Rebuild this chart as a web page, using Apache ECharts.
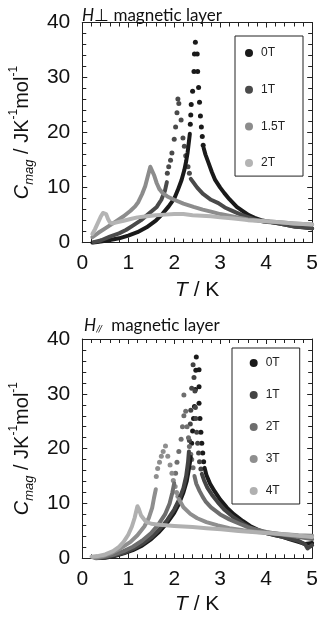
<!DOCTYPE html>
<html><head><meta charset="utf-8">
<script src="https://cdn.jsdelivr.net/npm/echarts@6/dist/echarts.min.js"></script>
<style>html,body{margin:0;padding:0;background:#fff}#c{width:321px;height:624px}</style>
</head><body><div id="c"></div>
<script>
// ---------- axis ticks ----------
const xTickValues = [0, 1, 2, 3, 4, 5];
const yTickValues = [0, 10, 20, 30, 40];

// ---------- top panel: H⊥ magnetic layer ----------
const topNames = ['0T', '1T', '1.5T', '2T'];
const topColors = ['#1a1a1a', '#4a4a4a', '#8c8c8c', '#b4b4b4'];

const top0Rise = [[0.22,0.0],[0.4,0.2],[0.6,0.5],[0.8,0.8],[1.0,1.3],[1.2,1.9],[1.4,2.8],[1.6,4.0],[1.75,5.3],[1.88,6.6],[2.0,8.0],[2.08,9.6],[2.16,11.4],[2.22,13.2],[2.26,14.8],[2.29,16.3],[2.32,18.4],[2.34,19.8]];
const top0Dots = [[2.35,21.5],[2.36,23.2],[2.37,25.1],[2.40,27.5],[2.43,31.1],[2.44,34.3],[2.46,36.4],[2.50,34.3],[2.51,31.1],[2.53,28.2],[2.55,25.5],[2.57,23.0],[2.59,21.0],[2.61,19.3],[2.63,17.7]];
const top0Tail = [[2.64,17.2],[2.68,16.0],[2.75,14.4],[2.82,12.8],[2.89,11.4],[3.0,10.0],[3.09,9.0],[3.2,7.9],[3.36,6.5],[3.5,5.7],[3.62,5.0],[3.75,4.5],[3.89,4.1],[4.0,3.9],[4.2,3.6],[4.4,3.3],[4.6,3.0],[4.8,2.8],[5.0,2.6]];

const top1Rise = [[0.25,0.1],[0.4,0.4],[0.6,1.1],[0.8,1.7],[0.95,2.3],[1.1,3.1],[1.28,4.1],[1.45,5.3],[1.62,6.5],[1.72,7.8],[1.8,9.5],[1.84,11.0]];
const top1Dots = [[1.85,12.6],[1.88,13.8],[1.92,15.0],[1.95,16.3],[2.0,18.8],[2.03,21.0],[2.06,23.6],[2.08,26.1],[2.10,25.3],[2.15,22.3],[2.19,19.0],[2.22,17.5],[2.25,15.8],[2.30,13.8],[2.33,12.6]];
const top1Tail = [[2.36,11.6],[2.42,10.9],[2.5,10.0],[2.62,8.9],[2.8,7.8],[2.96,7.2],[3.1,6.4],[3.29,5.7],[3.45,5.1],[3.62,4.6],[3.8,4.1],[3.96,3.8],[4.1,3.7],[4.29,3.5],[4.45,3.2],[4.63,2.9],[4.8,2.8],[5.0,2.6]];

const top15Line = [[0.22,1.0],[0.35,1.8],[0.5,2.6],[0.7,3.7],[0.9,4.8],[1.05,5.8],[1.15,6.6],[1.22,7.4],[1.3,8.8],[1.37,10.3],[1.43,12.2],[1.48,13.8],[1.52,13.5],[1.56,12.3],[1.62,10.8],[1.68,9.7],[1.75,9.0],[1.85,8.4],[2.0,7.8],[2.2,7.1],[2.42,6.5],[2.62,6.0],[2.82,5.6],[3.0,5.2],[3.3,4.7],[3.6,4.2],[4.0,3.9],[4.3,3.7],[4.6,3.5],[5.0,3.3]];

const top2Line = [[0.22,1.6],[0.28,2.5],[0.34,3.6],[0.4,4.7],[0.45,5.4],[0.48,5.6],[0.52,5.2],[0.56,4.3],[0.6,3.7],[0.66,3.5],[0.75,3.7],[0.9,4.0],[1.05,4.3],[1.2,4.6],[1.4,4.8],[1.6,5.0],[1.8,5.1],[2.0,5.2],[2.2,5.2],[2.4,5.0],[2.6,4.9],[2.8,4.8],[3.0,4.6],[3.3,4.4],[3.6,4.1],[4.0,3.9],[4.3,3.7],[4.6,3.5],[5.0,3.3]];

// ---------- bottom panel: H// magnetic layer ----------
const botNames = ['0T', '1T', '2T', '3T', '4T'];
const botColors = ['#1a1a1a', '#444444', '#6e6e6e', '#8e8e8e', '#b0b0b0'];

const bot0Rise = [[0.3,0.0],[0.5,0.1],[0.7,0.4],[0.9,0.9],[1.1,1.5],[1.3,2.3],[1.5,3.5],[1.68,4.9],[1.85,6.5],[2.0,8.3],[2.1,9.9],[2.2,12.0],[2.27,14.0],[2.32,16.3],[2.36,18.5]];
const bot0Dots = [[2.38,21.0],[2.40,23.2],[2.42,25.5],[2.44,27.7],[2.46,30.8],[2.47,34.3],[2.48,36.7],[2.54,34.4],[2.54,31.3],[2.54,28.3],[2.56,25.5],[2.58,23.0],[2.60,21.0],[2.62,19.2],[2.64,17.6]];
const bot0Tail = [[2.66,16.5],[2.7,15.2],[2.78,13.6],[2.88,12.2],[3.0,10.7],[3.15,9.2],[3.3,8.0],[3.49,6.8],[3.65,5.9],[3.82,5.2],[4.0,4.6],[4.2,4.2],[4.36,3.9],[4.5,3.5],[4.7,3.0],[4.85,2.6],[5.0,2.8]];

const bot1Rise = [[0.3,0.0],[0.5,0.2],[0.7,0.5],[0.9,1.0],[1.1,1.7],[1.3,2.6],[1.5,3.8],[1.68,5.3],[1.85,7.0],[2.0,8.9],[2.1,10.6],[2.2,12.8],[2.26,15.0],[2.3,17.5],[2.32,19.5]];
const bot1Dots = [[2.33,21.5],[2.35,24.5],[2.36,27.0],[2.38,31.0],[2.41,35.3],[2.43,33.0],[2.45,30.5],[2.46,27.5],[2.47,25.5],[2.49,23.0],[2.51,21.0],[2.53,19.2],[2.55,17.6],[2.58,16.3]];
const bot1Tail = [[2.6,15.4],[2.65,14.2],[2.72,12.9],[2.82,11.6],[2.95,10.2],[3.1,8.8],[3.3,7.4],[3.5,6.3],[3.7,5.4],[3.9,4.8],[4.1,4.4],[4.3,4.0],[4.5,3.6],[4.7,3.2],[4.85,2.5],[4.9,1.8],[5.0,2.4]];

const bot2Rise = [[0.3,0.0],[0.5,0.3],[0.7,0.7],[0.9,1.3],[1.1,2.1],[1.3,3.2],[1.5,4.6],[1.65,6.1],[1.8,8.0],[1.9,10.0],[1.96,12.0],[2.0,13.7]];
const bot2Dots = [[2.03,15.5],[2.06,17.5],[2.1,19.5],[2.15,21.7],[2.18,24.0],[2.21,26.0],[2.21,29.8],[2.25,26.8],[2.28,24.0],[2.31,22.0],[2.33,20.4],[2.36,19.0],[2.38,18.0],[2.41,16.5]];
const bot2Tail = [[2.44,15.0],[2.48,13.6],[2.55,12.3],[2.62,11.2],[2.68,10.4],[2.8,9.3],[3.0,8.0],[3.2,7.1],[3.42,6.3],[3.6,5.7],[3.8,5.2],[4.0,4.8],[4.3,4.4],[4.6,4.0],[5.0,3.5]];

const bot3Rise = [[0.25,0.1],[0.45,0.4],[0.65,1.0],[0.85,1.9],[1.05,3.0],[1.2,4.2],[1.35,5.8],[1.45,7.4],[1.52,9.2],[1.56,11.0],[1.6,12.6]];
const bot3Dots = [[1.61,14.9],[1.64,16.4],[1.68,17.5],[1.72,18.6],[1.76,19.5],[1.81,20.5],[1.86,18.6],[1.91,17.0],[1.95,15.5],[1.98,14.2],[2.02,13.1],[2.05,12.0],[2.08,11.3]];
const bot3Tail = [[2.1,10.8],[2.2,9.3],[2.35,8.1],[2.5,7.3],[2.7,6.6],[2.95,6.0],[3.2,5.5],[3.5,5.1],[3.8,4.8],[4.1,4.6],[4.4,4.4],[4.7,4.2],[5.0,4.1]];

const bot4Line = [[0.2,0.3],[0.33,0.4],[0.5,0.7],[0.67,1.3],[0.8,2.1],[0.9,3.0],[1.0,4.3],[1.08,5.8],[1.14,7.4],[1.18,8.8],[1.2,9.5],[1.23,9.0],[1.28,7.8],[1.38,6.7],[1.5,6.3],[1.68,6.1],[2.0,5.9],[2.4,5.7],[2.7,5.5],[3.02,5.3],[3.4,5.0],[3.7,4.8],[4.0,4.6],[4.37,4.4],[4.7,4.1],[5.0,3.9]];

// ---------- build ----------
const LINE_W = 4, DOT = 5;
function lineS(name, data, color, g) {
  return { name, type: 'line', xAxisIndex: g * 2, yAxisIndex: g * 2, data, showSymbol: false, symbol: 'none',
    lineStyle: { color, width: LINE_W, cap: 'round', join: 'round' }, itemStyle: { color }, animation: false, silent: true };
}
function dotS(name, data, color, g) {
  return { name, type: 'scatter', xAxisIndex: g * 2, yAxisIndex: g * 2, data, symbol: 'circle', symbolSize: DOT,
    itemStyle: { color, opacity: 1 }, animation: false, silent: true };
}
const series = [
  lineS(topNames[0], top0Rise, topColors[0], 0), dotS(topNames[0], top0Dots, topColors[0], 0), lineS(topNames[0], top0Tail, topColors[0], 0),
  lineS(topNames[1], top1Rise, topColors[1], 0), dotS(topNames[1], top1Dots, topColors[1], 0), lineS(topNames[1], top1Tail, topColors[1], 0),
  lineS(topNames[2], top15Line, topColors[2], 0),
  lineS(topNames[3], top2Line, topColors[3], 0),
  lineS(botNames[0], bot0Rise, botColors[0], 1), dotS(botNames[0], bot0Dots, botColors[0], 1), lineS(botNames[0], bot0Tail, botColors[0], 1),
  lineS(botNames[1], bot1Rise, botColors[1], 1), dotS(botNames[1], bot1Dots, botColors[1], 1), lineS(botNames[1], bot1Tail, botColors[1], 1),
  lineS(botNames[2], bot2Rise, botColors[2], 1), dotS(botNames[2], bot2Dots, botColors[2], 1), lineS(botNames[2], bot2Tail, botColors[2], 1),
  lineS(botNames[3], bot3Rise, botColors[3], 1), dotS(botNames[3], bot3Dots, botColors[3], 1), lineS(botNames[3], bot3Tail, botColors[3], 1),
  lineS(botNames[4], bot4Line, botColors[4], 1)
];

const AX = '#222';
const tickFont = { fontFamily: 'Liberation Sans, Arial, sans-serif', fontSize: 21, color: '#111' };
function xAx(g, pos, nameGap) {
  const main = pos === 'bottom';
  return { gridIndex: g, type: 'value', position: pos, min: xTickValues[0], max: xTickValues[xTickValues.length - 1],
    interval: xTickValues[1] - xTickValues[0],
    axisLine: { show: true, onZero: false, lineStyle: { color: AX, width: 1 } },
    axisTick: { show: true, inside: true, length: 5, lineStyle: { color: AX } },
    minorTick: { show: true, splitNumber: 5, length: 4, lineStyle: { color: AX } },
    splitLine: { show: false },
    axisLabel: { show: main, margin: 10, ...tickFont },
    name: main ? '{i|T}{n| / K}' : '', nameLocation: 'middle', nameGap: nameGap,
    nameTextStyle: { rich: { i: { fontFamily: 'Liberation Sans', fontStyle: 'italic', fontSize: 21, color: '#111' },
                             n: { fontFamily: 'Liberation Sans', fontSize: 21, color: '#111' } } } };
}
function yAx(g, pos, nameGap) {
  const main = pos === 'left';
  return { gridIndex: g, type: 'value', position: pos, min: yTickValues[0], max: yTickValues[yTickValues.length - 1],
    interval: yTickValues[1] - yTickValues[0],
    axisLine: { show: true, onZero: false, lineStyle: { color: AX, width: 1 } },
    axisTick: { show: true, inside: true, length: 5, lineStyle: { color: AX } },
    minorTick: { show: true, splitNumber: 5, length: 4, lineStyle: { color: AX } },
    splitLine: { show: false },
    axisLabel: { show: main, margin: 12, ...tickFont },
    name: main ? '{i|C}{sub|mag}{n| / JK}{sup|-1}{n|mol}{sup|-1}' : '', nameLocation: 'middle', nameGap: nameGap,
    nameTextStyle: { rich: {
      i: { fontFamily: 'Liberation Sans', fontStyle: 'italic', fontSize: 20, lineHeight: 28, color: '#111' },
      sub: { fontFamily: 'Liberation Sans', fontStyle: 'italic', fontSize: 13, lineHeight: 13, verticalAlign: 'bottom', color: '#111' },
      n: { fontFamily: 'Liberation Sans', fontSize: 20, lineHeight: 28, color: '#111' },
      sup: { fontFamily: 'Liberation Sans', fontSize: 12, lineHeight: 12, verticalAlign: 'top', color: '#111' } } } };
}

const legendText = { fontFamily: 'Liberation Sans Narrow, Liberation Sans, sans-serif', fontSize: 12, color: '#222', lineHeight: 12 };
const titleRich = {
  i: { fontFamily: 'Lato', fontStyle: 'italic', fontWeight: 'normal', fontSize: 17, color: '#111' },
  n: { fontFamily: 'Lato', fontWeight: 'normal', fontSize: 17, color: '#111' },
  s: { fontFamily: 'Lato', fontStyle: 'italic', fontWeight: 'normal', fontSize: 10, verticalAlign: 'bottom', lineHeight: 10, color: '#111' }
};
const option = {
  backgroundColor: '#fff',
  animation: false,
  title: [
    { left: 77, top: 2, text: '{i|H}{n|⊥ magnetic layer}', textStyle: { fontWeight: 'normal', rich: titleRich } },
    { left: 79, top: 312, text: '{i|H}{s|//}{n|  magnetic layer}', textStyle: { fontWeight: 'normal', rich: titleRich } }
  ],
  grid: [
    { left: 69.5, right: 2.5, top: 22.5, bottom: 381.3, containLabel: false },
    { left: 66.7, right: 6, top: 339, bottom: 65.7, containLabel: false }
  ],
  xAxis: [xAx(0, 'bottom', 37), xAx(0, 'top', 0), xAx(1, 'bottom', 35), xAx(1, 'top', 0)],
  yAxis: [yAx(0, 'left', 40), yAx(0, 'right', 0), yAx(1, 'left', 38), yAx(1, 'right', 0)],
  legend: [
    { orient: 'vertical', left: 235, top: 36, icon: 'circle', itemWidth: 14, itemHeight: 8, itemGap: 24.7,
      borderColor: '#222', borderWidth: 1, padding: [11, 18, 7, 10], selectedMode: false, textStyle: legendText,
      data: topNames.map((n, i) => ({ name: n, itemStyle: { color: topColors[i] } })) },
    { orient: 'vertical', left: 232, top: 348, icon: 'circle', itemWidth: 14, itemHeight: 8, itemGap: 20,
      borderColor: '#222', borderWidth: 1, padding: [9, 20, 7, 17.7], selectedMode: false, textStyle: legendText,
      data: botNames.map((n, i) => ({ name: n, itemStyle: { color: botColors[i] } })) }
  ],
  series
};
const chart = echarts.init(document.getElementById('c'), null, { renderer: 'canvas' });
chart.setOption(option);
</script></body></html>
